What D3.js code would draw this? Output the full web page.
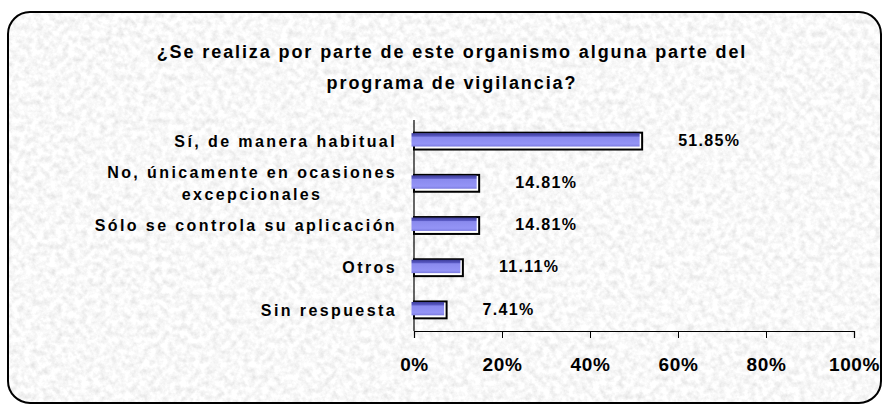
<!DOCTYPE html>
<html>

<head>
    <title>Programa de vigilancia</title>
    <style>
        body {
            margin: 0;
            background: #ffffff;
            font-family: "Liberation Sans", Arial, Helvetica, sans-serif;
        }
    </style>
    <script src="https://d3js.org/d3.v7.min.js"></script>
</head>

<body>
    <svg width="885" height="405"></svg>

    <script>

        var categories = [
            "Sí, de manera habitual",
            "No, únicamente en ocasiones\nexcepcionales",
            "Sólo se controla su aplicación",
            "Otros",
            "Sin respuesta"
        ];
        var values = [51.85, 14.81, 14.81, 11.11, 7.41];
        var valueLabels = ["51.85%", "14.81%", "14.81%", "11.11%", "7.41%"];
        var ticks = [0, 20, 40, 60, 80, 100];
        var titleLines = [
            "¿Se realiza por parte de este organismo alguna parte del",
            "programa de vigilancia?"
        ];

        var data = categories.map(function (c, i) {
            return { cat: c, value: values[i], label: valueLabels[i] };
        });

        var svg = d3.select("svg");
        var defs = svg.append("defs");

        // granite-ish texture for the chart area
        var filter = defs.append("filter").attr("id", "granite")
            .attr("x", 0).attr("y", 0).attr("width", 1).attr("height", 1);
        filter.append("feTurbulence")
            .attr("type", "fractalNoise")
            .attr("baseFrequency", 0.16)
            .attr("numOctaves", 4)
            .attr("seed", 7);
        filter.append("feColorMatrix")
            .attr("type", "matrix")
            .attr("values", "0.42 0 0 0 0.73  0.42 0 0 0 0.73  0.42 0 0 0 0.73  0 0 0 0 1");

        defs.append("clipPath").attr("id", "frameClip")
            .append("rect")
            .attr("x", 8).attr("y", 12).attr("width", 873).attr("height", 391)
            .attr("rx", 22).attr("ry", 22);

        var grad = defs.append("linearGradient").attr("id", "barGrad")
            .attr("x1", 0).attr("y1", 0).attr("x2", 0).attr("y2", 1);
        grad.append("stop").attr("offset", "0%").attr("stop-color", "#3c3c9a");
        grad.append("stop").attr("offset", "22%").attr("stop-color", "#5a5ac4");
        grad.append("stop").attr("offset", "30%").attr("stop-color", "#8a8aee");
        grad.append("stop").attr("offset", "80%").attr("stop-color", "#9494f6");
        grad.append("stop").attr("offset", "100%").attr("stop-color", "#7c7ce0");

        svg.append("rect")
            .attr("x", 8).attr("y", 12).attr("width", 873).attr("height", 391)
            .attr("clip-path", "url(#frameClip)")
            .attr("filter", "url(#granite)");

        svg.append("rect")
            .attr("x", 8).attr("y", 12).attr("width", 873).attr("height", 391)
            .attr("rx", 22).attr("ry", 22)
            .attr("fill", "none")
            .attr("stroke", "#000")
            .attr("stroke-width", 2);

        // title
        svg.append("text")
            .attr("text-anchor", "middle")
            .attr("font-size", 18)
            .attr("font-weight", "bold")
            .attr("letter-spacing", 1.9)
            .selectAll("tspan")
            .data(titleLines)
            .enter().append("tspan")
            .attr("x", 452)
            .attr("y", function (d, i) { return 58 + i * 31; })
            .text(function (d) { return d; });

        var x = d3.scaleLinear().domain([0, 100]).range([414, 854]);
        var y = d3.scaleBand().domain(categories).range([120, 331]).paddingInner(0.6).paddingOuter(0.3);

        // x axis
        var xAxis = svg.append("g")
            .attr("transform", "translate(0,331)")
            .call(d3.axisBottom(x).tickValues(ticks).tickSize(7).tickPadding(20)
                .tickFormat(function (d) { return d + "%"; }));
        xAxis.select(".domain").attr("stroke", "#000").attr("stroke-width", 1.2);
        xAxis.selectAll(".tick line").attr("stroke", "#000");
        xAxis.selectAll(".tick text")
            .attr("font-family", "'Liberation Sans', Arial, sans-serif")
            .attr("font-size", 19)
            .attr("font-weight", "bold")
            .attr("letter-spacing", 0.6)
            .attr("fill", "#000");

        // y axis line
        svg.append("line")
            .attr("x1", x(0)).attr("x2", x(0))
            .attr("y1", 120).attr("y2", 331)
            .attr("stroke", "#000").attr("stroke-width", 1.2);

        // bars: outlined back + blue face
        var bars = svg.selectAll(".bar").data(data).enter().append("g").attr("class", "bar");
        bars.append("rect")
            .attr("x", x(0))
            .attr("y", function (d) { return y(d.cat); })
            .attr("width", function (d) { return x(d.value) - x(0); })
            .attr("height", y.bandwidth())
            .attr("fill", "#ffffff")
            .attr("stroke", "#000")
            .attr("stroke-width", 2);
        bars.append("rect")
            .attr("x", x(0) - 2.5)
            .attr("y", function (d) { return y(d.cat) + 0.5; })
            .attr("width", function (d) { return x(d.value) - x(0); })
            .attr("height", y.bandwidth() - 3.5)
            .attr("fill", "url(#barGrad)");

        // value labels
        svg.selectAll(".vlabel").data(data).enter().append("text")
            .attr("class", "vlabel")
            .attr("x", function (d) { return x(d.value) + 36; })
            .attr("y", function (d) { return y(d.cat) + y.bandwidth() / 2 - 1; })
            .attr("dy", "0.35em")
            .attr("font-size", 16)
            .attr("font-weight", "bold")
            .attr("letter-spacing", 1.3)
            .text(function (d) { return d.label; });

        // category labels (multi-line ones are centered as a block)
        var labelRight = 397;
        categories.forEach(function (c) {
            var lines = c.split("\n");
            var t = svg.append("text")
                .attr("font-size", 16)
                .attr("font-weight", "bold")
                .attr("letter-spacing", 2.4);
            var cy = y(c) + y.bandwidth() / 2;
            var lh = 22;
            var y0 = cy - (lines.length - 1) * lh / 2;
            lines.forEach(function (l, i) {
                t.append("tspan")
                    .attr("y", y0 + i * lh)
                    .attr("dy", "0.35em")
                    .text(l);
            });
            if (lines.length > 1) {
                var w = d3.max(t.selectAll("tspan").nodes(), function (n) { return n.getComputedTextLength(); });
                t.attr("text-anchor", "middle").selectAll("tspan").attr("x", labelRight - w / 2);
            } else {
                t.attr("text-anchor", "end").selectAll("tspan").attr("x", labelRight);
            }
        });

    </script>

</body>

</html>
